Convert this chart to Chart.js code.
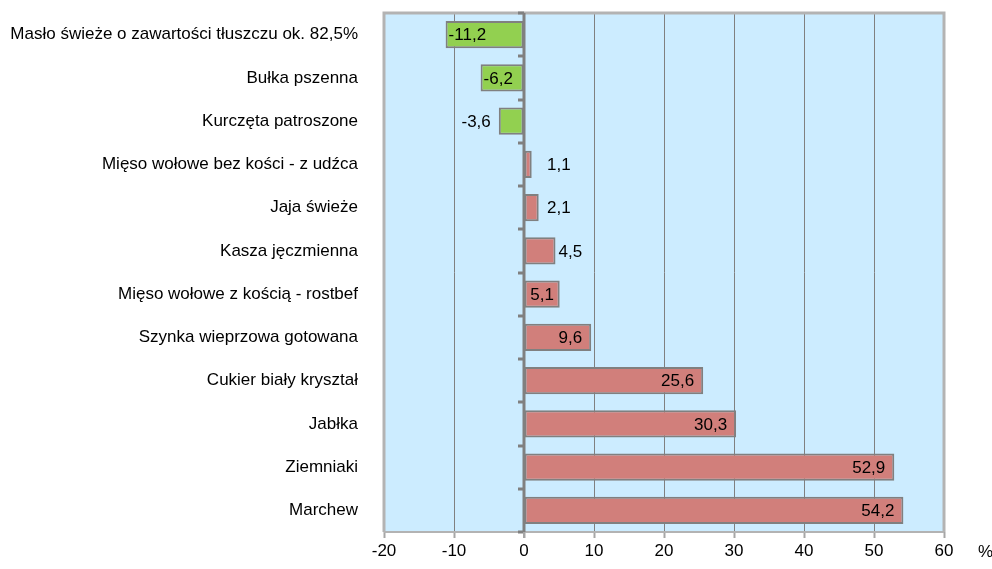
<!DOCTYPE html>
<html lang="pl">
<head>
    <meta charset="UTF-8">
    <title>Zmiana cen</title>
    <style>
        body { margin: 0; background: #fff; }
        #wrap { width: 992px; height: 569px; position: relative; }
    </style>
</head>
<body>
    <div id="wrap"><canvas id="chart"></canvas></div>
    <script src="https://cdn.jsdelivr.net/npm/chart.js"></script>
    <script>
        const categories = [
            'Masło świeże o zawartości tłuszczu ok. 82,5%',
            'Bułka pszenna',
            'Kurczęta patroszone',
            'Mięso wołowe bez kości - z udźca',
            'Jaja świeże',
            'Kasza jęczmienna',
            'Mięso wołowe z kością - rostbef',
            'Szynka wieprzowa gotowana',
            'Cukier biały kryształ',
            'Jabłka',
            'Ziemniaki',
            'Marchew'
        ];
        const changes = [-11.2, -6.2, -3.6, 1.1, 2.1, 4.5, 5.1, 9.6, 25.6, 30.3, 52.9, 54.2];
        const xTicks = [-20, -10, 0, 10, 20, 30, 40, 50, 60];
        const unitLabel = '%';

        const fontFamily = "'Liberation Sans', Arial, sans-serif";
        const fontSize = 17;
        const font = fontSize + 'px ' + fontFamily;

        const fmt = v => v.toFixed(1).replace('.', ',');

        // background + frame of the plot area
        const plotArea = {
            id: 'plotArea',
            beforeDraw(chart) {
                const { ctx, chartArea: a } = chart;
                ctx.save();
                ctx.fillStyle = '#CCECFF';
                ctx.fillRect(a.left, a.top, a.right - a.left, a.bottom - a.top);
                ctx.restore();
            },
            afterDraw(chart) {
                const { ctx, chartArea: a, scales } = chart;
                ctx.save();
                ctx.strokeStyle = '#B3B3B3';
                ctx.lineWidth = 3;
                ctx.beginPath();
                ctx.moveTo(a.left, a.bottom);
                ctx.lineTo(a.left, a.top);
                ctx.lineTo(a.right, a.top);
                ctx.lineTo(a.right, a.bottom);
                ctx.stroke();
                ctx.lineWidth = 2;
                ctx.beginPath();
                ctx.moveTo(a.left, a.bottom);
                ctx.lineTo(a.right, a.bottom);
                ctx.stroke();

                // zero axis with category ticks
                const x0 = scales.x.getPixelForValue(0);
                ctx.strokeStyle = '#808080';
                ctx.lineWidth = 3;
                ctx.beginPath();
                ctx.moveTo(x0, a.top);
                ctx.lineTo(x0, a.bottom);
                ctx.stroke();
                const n = categories.length;
                const step = (a.bottom - a.top) / n;
                for (let i = 0; i <= n; i++) {
                    const y = Math.round(a.top + i * step);
                    ctx.beginPath();
                    ctx.moveTo(x0 - 6, y);
                    ctx.lineTo(x0, y);
                    ctx.stroke();
                }
                ctx.strokeStyle = '#A6A6A6';
                ctx.lineWidth = 2;
                ctx.beginPath();
                ctx.moveTo(x0, a.bottom);
                ctx.lineTo(x0, a.bottom + 6);
                ctx.stroke();

                // unit label
                ctx.fillStyle = '#000';
                ctx.font = font;
                ctx.textAlign = 'left';
                ctx.textBaseline = 'middle';
                ctx.fillText(unitLabel, a.right + 34, a.bottom + 20);
                ctx.restore();
            }
        };

        const barLabels = {
            id: 'barLabels',
            afterDatasetsDraw(chart) {
                const { ctx, scales } = chart;
                const x0 = scales.x.getPixelForValue(0);
                const meta = chart.getDatasetMeta(0);
                ctx.save();
                ctx.font = font;
                ctx.fillStyle = '#000';
                ctx.textBaseline = 'middle';
                meta.data.forEach((bar, i) => {
                    const v = changes[i];
                    const txt = fmt(v);
                    const tw = ctx.measureText(txt).width;
                    const w = Math.abs(bar.x - bar.base);
                    const y = bar.y + 1;
                    if (v >= 0) {
                        if (w >= tw + 10) {
                            ctx.textAlign = 'right';
                            ctx.fillText(txt, bar.x - Math.min(9, Math.max(3, (w - tw) / 2)), y);
                        } else {
                            ctx.textAlign = 'left';
                            ctx.fillText(txt, Math.max(bar.x + 3, x0 + 23), y);
                        }
                    } else {
                        if (w >= tw + 4) {
                            ctx.textAlign = 'left';
                            ctx.fillText(txt, Math.min(bar.x + 3, x0 - tw - 8), y);
                        } else {
                            ctx.textAlign = 'right';
                            ctx.fillText(txt, bar.x - 8, y);
                        }
                    }
                });
                ctx.restore();
            }
        };

        new Chart(document.getElementById('chart'), {
            type: 'bar',
            data: {
                labels: categories,
                datasets: [{
                    data: changes,
                    backgroundColor: changes.map(v => v < 0 ? '#92D050' : '#D17F7B'),
                    borderColor: '#808080',
                    borderWidth: 2,
                    borderSkipped: false,
                    barPercentage: 0.63,
                    categoryPercentage: 1
                }]
            },
            options: {
                indexAxis: 'y',
                responsive: true,
                maintainAspectRatio: false,
                animation: false,
                layout: { padding: { top: 13, right: 48, left: 0, bottom: 0 } },
                plugins: {
                    legend: { display: false },
                    tooltip: { enabled: false }
                },
                scales: {
                    x: {
                        min: xTicks[0],
                        max: xTicks[xTicks.length - 1],
                        afterBuildTicks(scale) {
                            scale.ticks = xTicks.map(v => ({ value: v }));
                        },
                        afterFit(scale) {
                            scale.height = 37;
                            scale.paddingLeft = 0;
                            scale.paddingRight = 0;
                        },
                        border: { display: false },
                        grid: {
                            color: ctx => (ctx.tick && (ctx.tick.value === 0 || ctx.tick.value === xTicks[0] || ctx.tick.value === xTicks[xTicks.length - 1])) ? 'rgba(0,0,0,0)' : '#808080',
                            lineWidth: 1,
                            drawTicks: true,
                            tickLength: 6,
                            tickColor: '#A6A6A6',
                            tickWidth: 2
                        },
                        ticks: {
                            color: '#000',
                            font: { family: fontFamily, size: fontSize },
                            padding: 3,
                            maxRotation: 0
                        }
                    },
                    y: {
                        afterFit(scale) {
                            scale.width = 384;
                            scale.paddingTop = 0;
                            scale.paddingBottom = 0;
                        },
                        border: { display: false },
                        grid: { display: false },
                        ticks: {
                            color: '#000',
                            font: { family: fontFamily, size: fontSize },
                            padding: 18
                        }
                    }
                }
            },
            plugins: [plotArea, barLabels]
        });
    </script>
</body>
</html>
